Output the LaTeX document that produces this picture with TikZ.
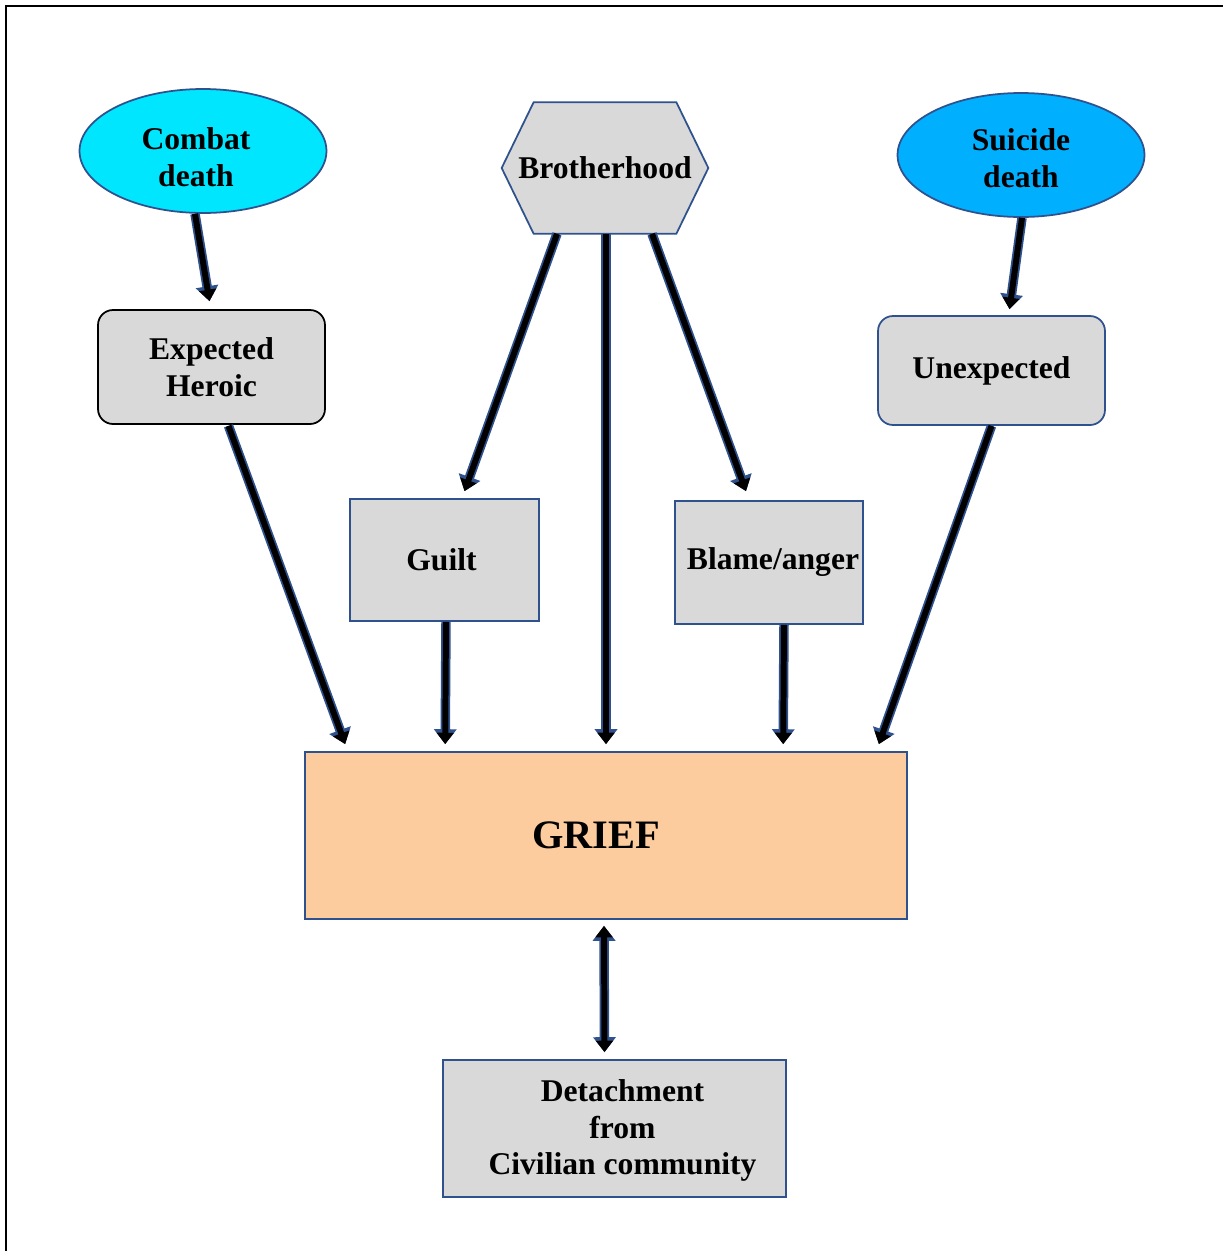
\documentclass[tikz,border=0pt]{standalone}
\usepackage{fontspec}
\setmainfont{Liberation Serif}
\usepackage{tikz}
\usetikzlibrary{arrows.meta, calc, shapes.geometric}
\definecolor{edgeblue}{RGB}{47,82,143}
\definecolor{boxgray}{RGB}{217,217,217}
\definecolor{combatcyan}{RGB}{0,230,255}
\definecolor{suicideblue}{RGB}{0,176,255}
\definecolor{griefpeach}{RGB}{252,204,158}

\begin{document}
\begin{tikzpicture}[x=0.02cm, y=-0.02cm,
    every node/.style={font=\fontsize{18}{21}\selectfont\bfseries, align=center},
    oval/.style={ellipse, draw=edgeblue, line width=1pt, minimum width=4.94cm, minimum height=2.48cm, inner sep=0pt},
    gbox/.style={rectangle, draw=edgeblue, line width=1pt, fill=boxgray, inner sep=0pt},
    blk/.style={-{Triangle[width=9.5pt,length=6.5pt]}, line width=3.4pt, preaction={draw=edgeblue, line width=5.4pt, -{Triangle[width=12.5pt,length=8.5pt]}}},
    blkboth/.style={{Triangle[width=9.5pt,length=6.5pt]}-{Triangle[width=9.5pt,length=6.5pt]}, line width=3.4pt, preaction={draw=edgeblue, line width=5.4pt, {Triangle[width=12.5pt,length=8.5pt]}-{Triangle[width=12.5pt,length=8.5pt]}}}]
        \useasboundingbox (0,0) rectangle (1223,1251);
        \draw[line width=1.2pt] (6,1270) -- (6,6) -- (1240,6);
        % top row
        \node[oval, fill=combatcyan, label={[shift={(-7,6)}]center:{Combat\\death}}] (combat) at (203,151) {};
        \node[oval, fill=suicideblue, label={[shift={(0,3)}]center:{Suicide\\death}}] (suicide) at (1021,155) {};
        \node[minimum width=4.12cm, minimum height=2.62cm, inner sep=0pt] (bro) at (605,168) {};
        \draw[edgeblue, line width=1pt, fill=boxgray] (bro.west) -- ($(bro.north west)+(32,0)$) -- ($(bro.north east)+(-32,0)$) -- (bro.east) -- ($(bro.south east)+(-32,0)$) -- ($(bro.south west)+(32,0)$) -- cycle;
        \node at (bro) {Brotherhood};
        % middle boxes
        \node[gbox, draw=black, rounded corners=0.3cm, minimum width=4.54cm, minimum height=2.28cm] (expected) at (211.5,367) {Expected\\Heroic};
        \node[gbox, rounded corners=0.3cm, minimum width=4.54cm, minimum height=2.18cm] (unexp) at (991.5,370.5) {Unexpected};
        \node[gbox, minimum width=3.78cm, minimum height=2.44cm, label={[shift={(-3,0)}]center:Guilt}] (guilt) at (444.5,560) {};
        \node[gbox, minimum width=3.76cm, minimum height=2.46cm, label={[shift={(4,0)}]center:Blame/anger}] (blame) at (769,562.5) {};
        % bottom
        \node[gbox, fill=griefpeach, minimum width=12.04cm, minimum height=3.34cm, label={[shift={(-10,0)}, font=\fontsize{23}{27}\selectfont\bfseries]center:GRIEF}] (grief) at (606,835.5) {};
        \node[gbox, minimum width=6.86cm, minimum height=2.74cm, label={[shift={(8,2)}]center:{Detachment\\from\\Civilian community}}] (detach) at (614.5,1128.5) {};
        % arrows
        \draw[blk] ($(combat.south)+(-8,0)$) -- ($(expected.north)+(-2,-8)$);
        \draw[blk] ($(suicide.south)+(1,0)$) -- ($(unexp.north)+(18,-6)$);
        \draw[blk] ($(bro.south)+(-48,0)$) -- ($(guilt.north)+(20,-7)$);
        \draw[blk] ($(bro.south)+(1,0)$) -- ($(grief.north)+(0,-7)$);
        \draw[blk] ($(bro.south)+(47,0)$) -- ($(blame.north)+(-23,-9)$);
        \draw[blk] ($(expected.south)+(17,1)$) -- ($(grief.north west)+(41,-7)$);
        \draw[blk] (unexp.south) -- ($(grief.north east)+(-29,-7)$);
        \draw[blk] ($(guilt.south)+(1.5,0)$) -- ($(grief.north west)+(141,-7)$);
        \draw[blk] ($(blame.south)+(15,0)$) -- ($(grief.north west)+(479,-7)$);
        \draw[blkboth] ($(grief.south)+(-2,6)$) -- ($(detach.north)+(-10,-7)$);
    \end{tikzpicture}
\end{document}
